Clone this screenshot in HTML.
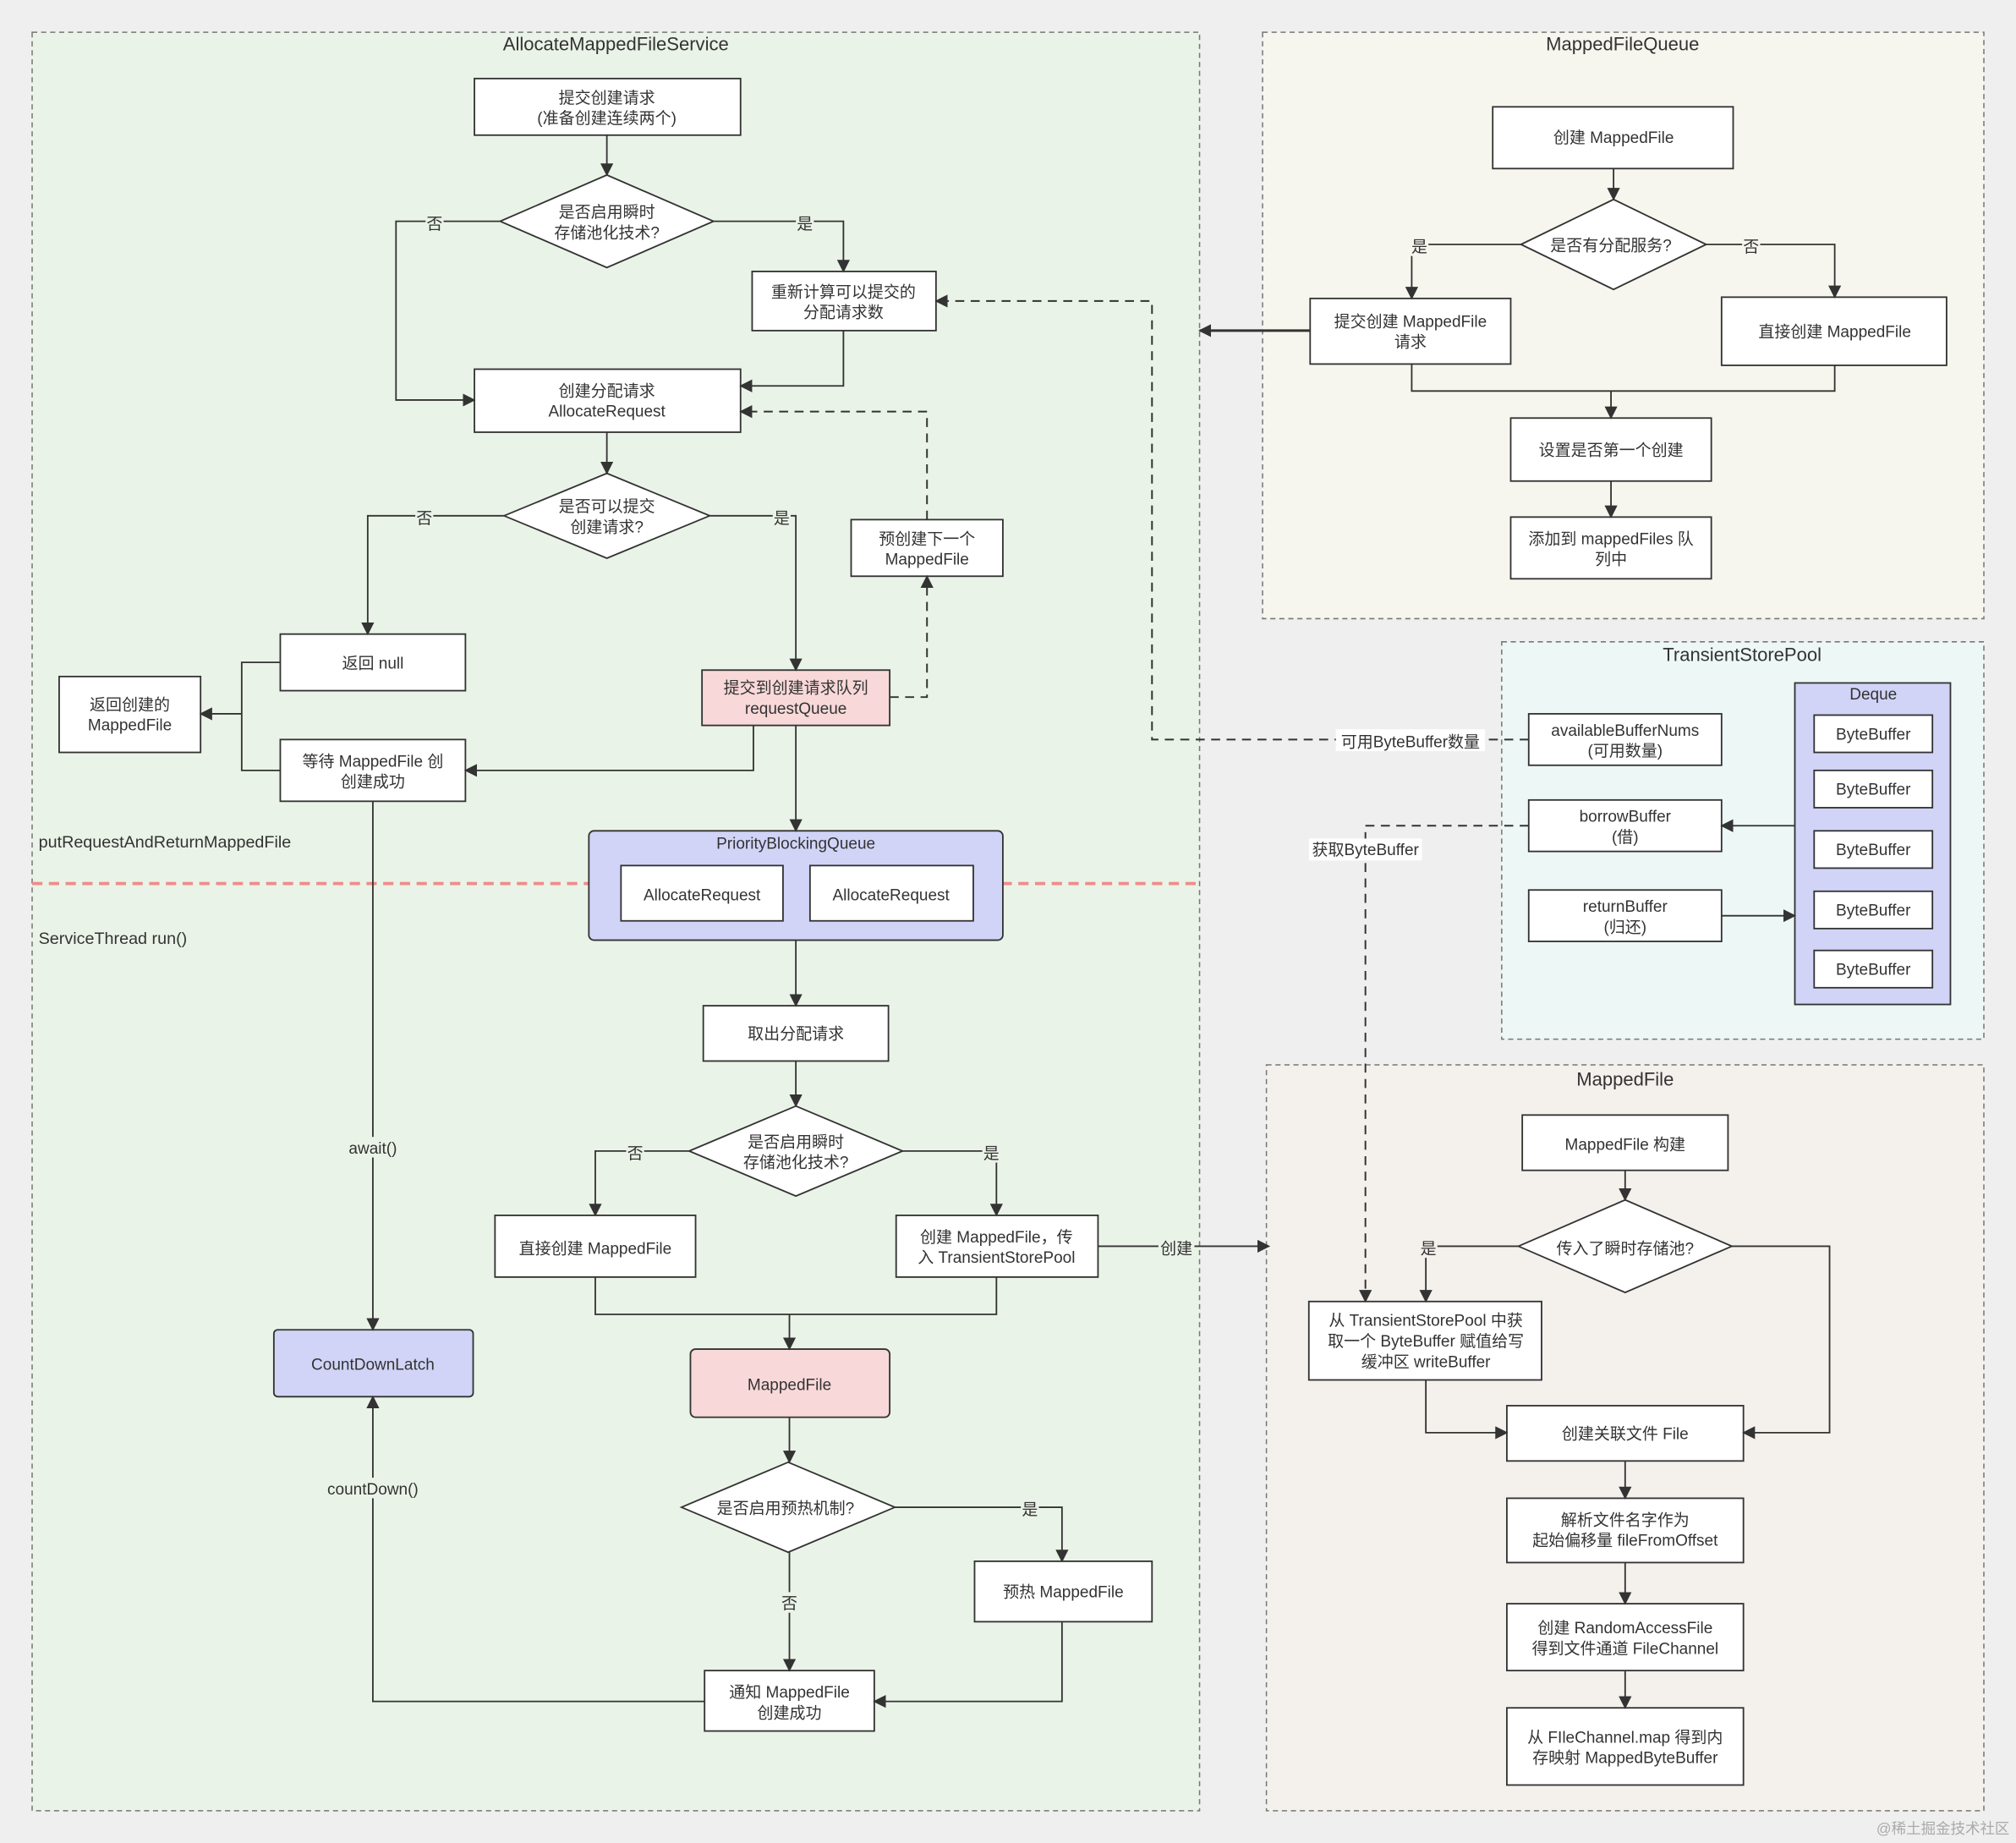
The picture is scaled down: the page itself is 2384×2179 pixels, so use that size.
<!DOCTYPE html>
<html><head><meta charset="utf-8"><style>
html,body{margin:0;padding:0;background:#efefef;}
svg{display:block;}
text{font-family:"Liberation Sans","Noto Sans CJK SC",sans-serif;fill:#333;}
</style></head><body>
<svg width="2384" height="2179" viewBox="0 0 1568 1433" xmlns="http://www.w3.org/2000/svg">
<defs>
<marker id="a" markerWidth="10" markerHeight="10" refX="9" refY="5" orient="auto" markerUnits="userSpaceOnUse"><path d="M0,0 L10,5 L0,10 z" fill="#333"/></marker>
</defs>
<rect width="1568" height="1433" fill="#efefef"/>
<!-- panels -->
<rect x="25" y="25" width="908" height="1383" fill="#eaf3e7" stroke="#777" stroke-dasharray="4,3"/>
<rect x="982" y="25" width="561" height="456" fill="#f7f6ee" stroke="#777" stroke-dasharray="4,3"/>
<rect x="1168" y="499" width="375" height="309" fill="#edf7f5" stroke="#777" stroke-dasharray="4,3"/>
<rect x="985" y="828" width="558" height="580" fill="#f4f0ec" stroke="#777" stroke-dasharray="4,3"/>
<g font-size="14.5" text-anchor="middle">
<text x="479" y="39">AllocateMappedFileService</text>
<text x="1262" y="39">MappedFileQueue</text>
<text x="1355" y="514">TransientStorePool</text>
<text x="1264" y="844">MappedFile</text>
</g>
<line x1="25" y1="687" x2="933" y2="687" stroke="#ef8c8c" stroke-width="2.5" stroke-dasharray="8,5"/>
<g font-size="13" fill="#222"><text x="30" y="659">putRequestAndReturnMappedFile</text><text x="30" y="734">ServiceThread run()</text></g>

<g stroke="#333" stroke-width="1.2" fill="#fff">
<rect x="369" y="61" width="207" height="44"/>
<polygon points="389,172 472,136 555,172 472,208"/>
<rect x="585" y="211" width="143" height="46"/>
<rect x="369" y="287" width="207" height="49"/>
<polygon points="392,401 472,368 552,401 472,434"/>
<rect x="662" y="404" width="118" height="44"/>
<rect x="218" y="493" width="144" height="44"/>
<rect x="46" y="526" width="110" height="59"/>
<rect x="546" y="521" width="146" height="43" fill="#f8d8d8"/>
<rect x="218" y="575" width="144" height="48"/>
<rect x="458" y="646" width="322" height="85" rx="4" fill="#d1d4f7"/>
<rect x="483" y="673" width="126" height="43"/>
<rect x="630" y="673" width="127" height="43"/>
<rect x="547" y="782" width="144" height="43"/>
<polygon points="536,895 619,860 702,895 619,930"/>
<rect x="385" y="945" width="156" height="48"/>
<rect x="697" y="945" width="157" height="48"/>
<rect x="537" y="1049" width="155" height="53" rx="4" fill="#f8d8d8"/>
<polygon points="530,1172 613,1137 696,1172 613,1207"/>
<rect x="758" y="1214" width="138" height="47"/>
<rect x="548" y="1299" width="132" height="47"/>
<rect x="213" y="1034" width="155" height="52" rx="3" fill="#d1d4f7"/>
<!-- queue -->
<rect x="1161" y="83" width="187" height="48"/>
<polygon points="1183,190 1255,155 1327,190 1255,225"/>
<rect x="1019" y="232" width="156" height="51"/>
<rect x="1339" y="231" width="175" height="53"/>
<rect x="1175" y="325" width="156" height="49"/>
<rect x="1175" y="402" width="156" height="48"/>
<!-- pool -->
<rect x="1396" y="531" width="121" height="250" fill="#d1d4f7"/>
<rect x="1411" y="556" width="92" height="29"/>
<rect x="1411" y="599" width="92" height="29"/>
<rect x="1411" y="646" width="92" height="29"/>
<rect x="1411" y="693" width="92" height="29"/>
<rect x="1411" y="739" width="92" height="29"/>
<rect x="1189" y="555" width="150" height="40"/>
<rect x="1189" y="622" width="150" height="40"/>
<rect x="1189" y="692" width="150" height="40"/>
<!-- mappedfile -->
<rect x="1184" y="867" width="160" height="43"/>
<polygon points="1181,969 1264,933 1347,969 1264,1005"/>
<rect x="1018" y="1012" width="181" height="61"/>
<rect x="1172" y="1093" width="184" height="43"/>
<rect x="1172" y="1165" width="184" height="50"/>
<rect x="1172" y="1247" width="184" height="52"/>
<rect x="1172" y="1328" width="184" height="60"/>
</g>

<!-- connectors -->
<g stroke="#333" stroke-width="1.2" fill="none" marker-end="url(#a)">
<path d="M472,105 V136"/>
<path d="M389,172 H308 V311 H369"/>
<path d="M555,172 H656 V211"/>
<path d="M656,257 V300 H576"/>
<path d="M472,336 V368"/>
<path d="M392,401 H286 V493"/>
<path d="M552,401 H619 V521"/>
<path d="M188,555 H156" />
<path d="M586,564 V599 H362"/>
<path d="M619,564 V646"/>
<path d="M290,623 V1034"/>
<path d="M619,731 V782"/>
<path d="M619,825 V860"/>
<path d="M536,895 H463 V945"/>
<path d="M702,895 H775 V945"/>
<path d="M614,1022 V1049"/>
<path d="M854,969 H987"/>
<path d="M614,1102 V1137"/>
<path d="M696,1172 H826 V1214"/>
<path d="M614,1207 V1299"/>
<path d="M826,1261 V1323 H680"/>
<path d="M548,1323 H290 V1086"/>
<path d="M1255,131 V155"/>
<path d="M1183,190 H1098 V232"/>
<path d="M1327,190 H1427 V231"/>
<path d="M1253,304 V325"/>
<path d="M1253,374 V402"/>
<path d="M1019,257 H933" stroke-width="2"/>
<path d="M1396,642 H1339"/>
<path d="M1339,712 H1396"/>
<path d="M1264,910 V933"/>
<path d="M1181,969 H1109 V1012"/>
<path d="M1347,969 H1423 V1114 H1356"/>
<path d="M1109,1073 V1114 H1172"/>
<path d="M1264,1136 V1165"/>
<path d="M1264,1215 V1247"/>
<path d="M1264,1299 V1328"/>
</g>
<g stroke="#333" stroke-width="1.2" fill="none">
<path d="M218,515 H188 V599 H218"/>
<path d="M463,993 V1022 H775 V993"/>
<path d="M1098,283 V304 H1427 V284"/>
</g>
<g stroke="#333" stroke-width="1.3" fill="none" stroke-dasharray="7,5" marker-end="url(#a)">
<path d="M721,404 V320 H576"/>
<path d="M692,542 H721 V448"/>
<path d="M1189,575 H896 V234 H728"/>
<path d="M1189,642 H1062 V1012"/>
</g>

<!-- edge labels -->
<g font-size="12.5" text-anchor="middle">
<rect x="331" y="165" width="14" height="16" fill="#eaf3e7"/><text x="338" y="178">否</text>
<rect x="619" y="165" width="14" height="16" fill="#eaf3e7"/><text x="626" y="178">是</text>
<rect x="323" y="394" width="14" height="16" fill="#eaf3e7"/><text x="330" y="407">否</text>
<rect x="601" y="394" width="14" height="16" fill="#eaf3e7"/><text x="608" y="407">是</text>
<rect x="268" y="884" width="44" height="16" fill="#eaf3e7"/><text x="290" y="897">await()</text>
<rect x="487" y="888" width="14" height="16" fill="#eaf3e7"/><text x="494" y="901">否</text>
<rect x="764" y="888" width="14" height="16" fill="#eaf3e7"/><text x="771" y="901">是</text>
<rect x="901" y="962" width="28" height="16" fill="#eaf3e7"/><text x="915" y="975">创建</text>
<rect x="794" y="1165" width="14" height="16" fill="#eaf3e7"/><text x="801" y="1178">是</text>
<rect x="607" y="1238" width="14" height="16" fill="#eaf3e7"/><text x="614" y="1251">否</text>
<rect x="252" y="1149" width="76" height="16" fill="#eaf3e7"/><text x="290" y="1162">countDown()</text>
<rect x="1097" y="183" width="14" height="16" fill="#f7f6ee"/><text x="1104" y="196">是</text>
<rect x="1355" y="183" width="14" height="16" fill="#f7f6ee"/><text x="1362" y="196">否</text>
<rect x="1039" y="567" width="116" height="17" fill="#fff"/><text x="1097" y="581">可用ByteBuffer数量</text>
<rect x="1018" y="652" width="88" height="17" fill="#fff"/><text x="1062" y="665">获取ByteBuffer</text>
<rect x="1104" y="962" width="14" height="16" fill="#f4f0ec"/><text x="1111" y="975">是</text>
</g>

<!-- node text -->
<g font-size="12.5" text-anchor="middle">
<text x="472" y="80">提交创建请求</text><text x="472" y="96">(准备创建连续两个)</text>
<text x="472" y="169">是否启用瞬时</text><text x="472" y="185">存储池化技术?</text>
<text x="656" y="231">重新计算可以提交的</text><text x="656" y="247">分配请求数</text>
<text x="472" y="308">创建分配请求</text><text x="472" y="324">AllocateRequest</text>
<text x="472" y="398">是否可以提交</text><text x="472" y="414">创建请求?</text>
<text x="721" y="423">预创建下一个</text><text x="721" y="439">MappedFile</text>
<text x="290" y="520">返回 null</text>
<text x="101" y="552">返回创建的</text><text x="101" y="568">MappedFile</text>
<text x="619" y="539">提交到创建请求队列</text><text x="619" y="555">requestQueue</text>
<text x="290" y="596">等待 MappedFile 创</text><text x="290" y="612">创建成功</text>
<text x="619" y="660">PriorityBlockingQueue</text>
<text x="546" y="700">AllocateRequest</text><text x="693" y="700">AllocateRequest</text>
<text x="619" y="808">取出分配请求</text>
<text x="619" y="892">是否启用瞬时</text><text x="619" y="908">存储池化技术?</text>
<text x="463" y="975">直接创建 MappedFile</text>
<text x="775" y="966">创建 MappedFile，传</text><text x="775" y="982">入 TransientStorePool</text>
<text x="614" y="1081">MappedFile</text>
<text x="611" y="1177">是否启用预热机制?</text>
<text x="827" y="1242">预热 MappedFile</text>
<text x="614" y="1320">通知 MappedFile</text><text x="614" y="1336">创建成功</text>
<text x="290" y="1065">CountDownLatch</text>
<text x="1255" y="111">创建 MappedFile</text>
<text x="1253" y="195">是否有分配服务?</text>
<text x="1097" y="254">提交创建 MappedFile</text><text x="1097" y="270">请求</text>
<text x="1427" y="262">直接创建 MappedFile</text>
<text x="1253" y="354">设置是否第一个创建</text>
<text x="1253" y="423">添加到 mappedFiles 队</text><text x="1253" y="439">列中</text>
<text x="1457" y="544">Deque</text>
<text x="1457" y="575">ByteBuffer</text><text x="1457" y="618">ByteBuffer</text><text x="1457" y="665">ByteBuffer</text><text x="1457" y="712">ByteBuffer</text><text x="1457" y="758">ByteBuffer</text>
<text x="1264" y="572">availableBufferNums</text><text x="1264" y="588">(可用数量)</text>
<text x="1264" y="639">borrowBuffer</text><text x="1264" y="655">(借)</text>
<text x="1264" y="709">returnBuffer</text><text x="1264" y="725">(归还)</text>
<text x="1264" y="894">MappedFile 构建</text>
<text x="1264" y="975">传入了瞬时存储池?</text>
<text x="1109" y="1031">从 TransientStorePool 中获</text><text x="1109" y="1047">取一个 ByteBuffer 赋值给写</text><text x="1109" y="1063">缓冲区 writeBuffer</text>
<text x="1264" y="1119">创建关联文件 File</text>
<text x="1264" y="1186">解析文件名字作为</text><text x="1264" y="1202">起始偏移量 fileFromOffset</text>
<text x="1264" y="1270">创建 RandomAccessFile</text><text x="1264" y="1286">得到文件通道 FileChannel</text>
<text x="1264" y="1355">从 FIleChannel.map 得到内</text><text x="1264" y="1371">存映射 MappedByteBuffer</text>
</g>
<text x="1563" y="1426" font-size="11.5" text-anchor="end" style="fill:#aaa">@稀土掘金技术社区</text>
</svg>
</body></html>
